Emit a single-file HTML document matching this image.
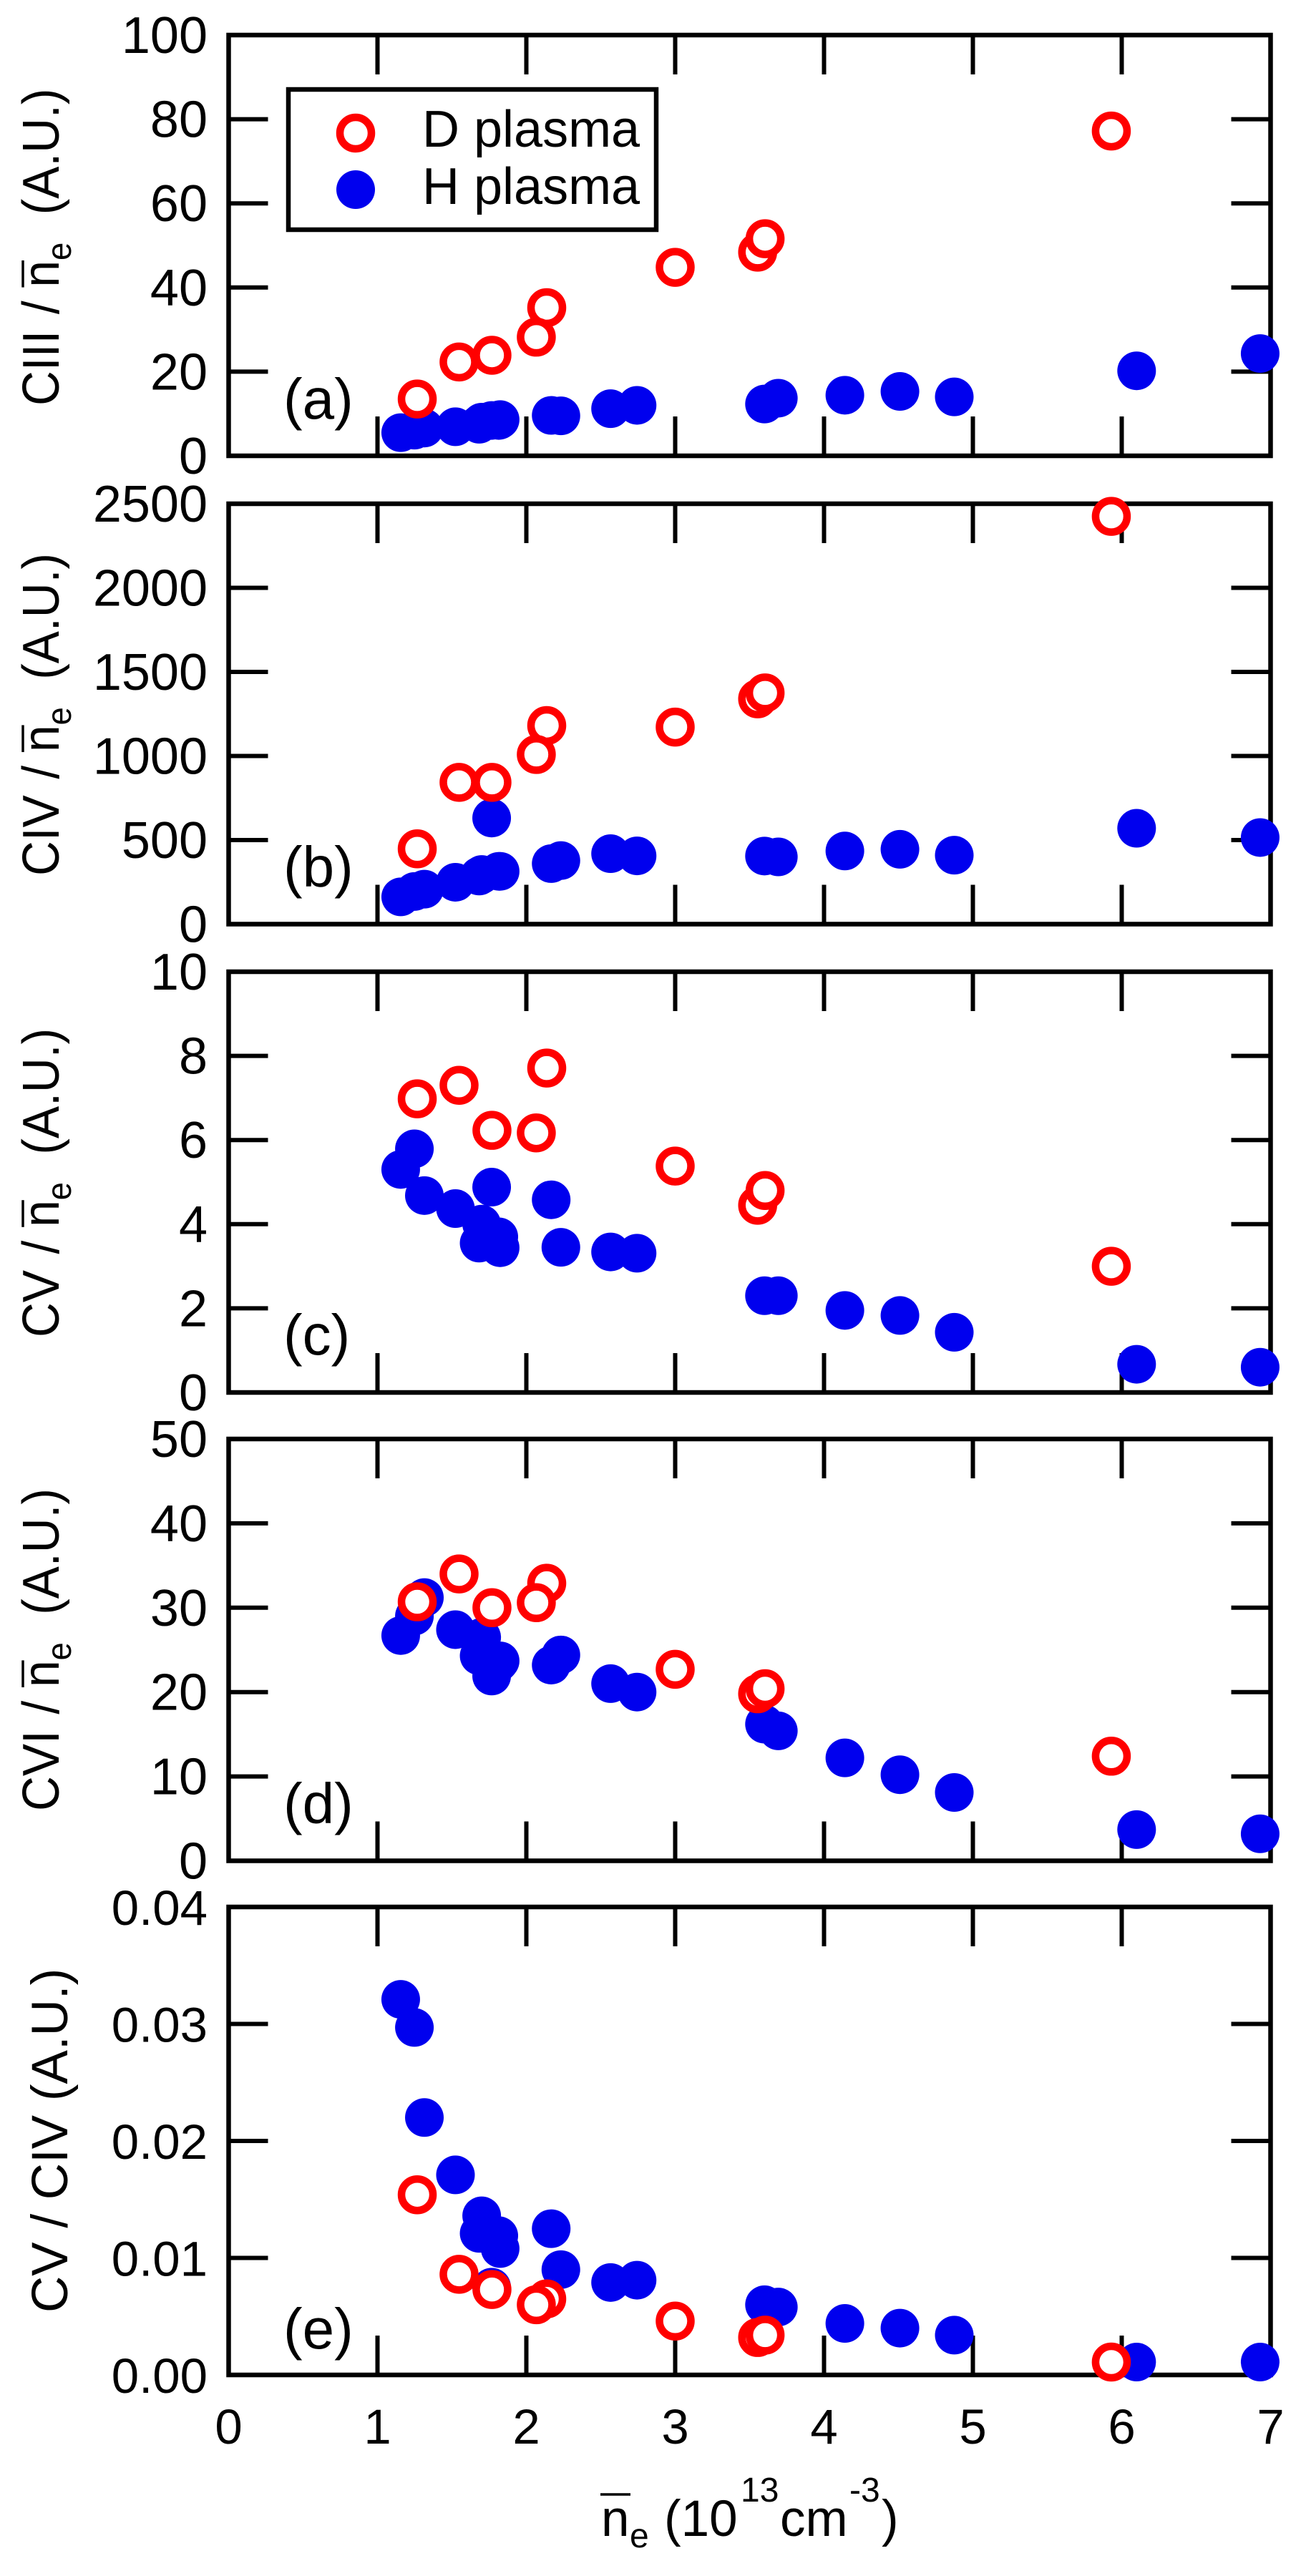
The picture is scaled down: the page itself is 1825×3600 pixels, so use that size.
<!DOCTYPE html>
<html lang="en">
<head>
<meta charset="utf-8">
<title>Carbon line intensities versus line-averaged density</title>
<style>
  html, body { margin: 0; padding: 0; background: #ffffff; }
  body { width: 1825px; height: 3600px; overflow: hidden; }
  svg { display: block; }
  text { font-family: "Liberation Sans", Arial, sans-serif; fill: #000000; white-space: pre; }
</style>
</head>
<body>
<svg id="figure" xmlns="http://www.w3.org/2000/svg" width="1825" height="3600" viewBox="0 0 1825 3600">
  <rect x="0" y="0" width="1825" height="3600" fill="#ffffff"/>
  <g id="panels"></g>
  <g>
    <rect x="403" y="125" width="514" height="196" fill="#ffffff" stroke="#000000" stroke-width="6.5"/>
    <circle cx="497" cy="186" r="22" fill="#ffffff" stroke="#ff0000" stroke-width="10.5"/>
    <text x="590" y="205" font-size="72">D plasma</text>
    <circle cx="497" cy="265" r="27" fill="#0000ee"/>
    <text x="590" y="285" font-size="72">H plasma</text>
  </g>
  <g>
    <line x1="839" y1="3486" x2="881" y2="3486" stroke="#000000" stroke-width="3.5"/>
    <text font-size="71"><tspan x="840" y="3544">n</tspan><tspan x="880" y="3560" font-size="48">e</tspan><tspan x="928" y="3544">(10</tspan><tspan x="1035" y="3496" font-size="48">13</tspan><tspan x="1090" y="3544">cm</tspan><tspan x="1187" y="3496" font-size="48">-3</tspan><tspan x="1232" y="3544">)</tspan></text>
  </g>
</svg>
<script>
// Shared x values (line-averaged density, 10^13 cm^-3)
var densityH = [1.156, 1.248, 1.315, 1.524, 1.683, 1.70, 1.767, 1.815, 1.824, 2.167, 2.232, 2.566, 2.744, 3.60, 3.693, 4.14, 4.51, 4.875, 6.10, 6.93];
var densityD = [1.267, 1.548, 1.769, 2.137, 2.067, 3.0, 3.554, 3.604, 5.93];

// Panel (a) CIII / ne
var ciiiH = [5.5, 6.1, 6.6, 6.9, 7.5, 8.0, 8.4, 8.4, 8.6, 9.6, 9.5, 11.2, 12.0, 12.3, 13.7, 14.4, 15.3, 14.0, 20.2, 24.3];
var ciiiD = [13.5, 22.3, 23.9, 35.2, 28.2, 44.8, 48.4, 51.6, 77.2];
var ticksA = ["0", "20", "40", "60", "80", "100"];

// Panel (b) CIV / ne
var civH = [162, 194, 208, 249, 286, 295, 631, 314, 314, 360, 378, 419, 406, 405, 400, 435, 445, 410, 570, 515];
var civD = [448, 843, 843, 1181, 1009, 1172, 1340, 1375, 2425];
var ticksB = ["0", "500", "1000", "1500", "2000", "2500"];

// Panel (c) CV / ne
var cvH = [5.3, 5.79, 4.68, 4.37, 3.55, 4.0, 4.88, 3.7, 3.44, 4.58, 3.45, 3.34, 3.31, 2.3, 2.3, 1.95, 1.83, 1.43, 0.67, 0.6];
var cvD = [6.98, 7.3, 6.23, 7.71, 6.17, 5.38, 4.45, 4.8, 3.0];
var ticksC = ["0", "2", "4", "6", "8", "10"];

// Panel (d) CVI / ne
var cviH = [26.7, 29, 31.2, 27.4, 24.3, 26.5, 21.9, 23.5, 23.7, 23.2, 24.4, 21, 20, 16.2, 15.4, 12.2, 10.2, 8.1, 3.7, 3.2];
var cviD = [30.7, 34, 30, 32.9, 30.6, 22.7, 19.8, 20.4, 12.4];
var ticksD = ["0", "10", "20", "30", "40", "50"];

// Panel (e) CV / CIV
var ratioH = [0.0321, 0.0297, 0.022, 0.0171, 0.0121, 0.0136, 0.0075, 0.0119, 0.0108, 0.0125, 0.009, 0.0079, 0.0081, 0.006, 0.0058, 0.0044, 0.004, 0.0034, 0.0011, 0.0011];
var ratioD = [0.0154, 0.0086, 0.0073, 0.0065, 0.006, 0.0046, 0.0032, 0.0034, 0.0011];
var ticksE = ["0.00", "0.01", "0.02", "0.03", "0.04"];

var xTicks = ["0", "1", "2", "3", "4", "5", "6", "7"];

var panelNames = ["a", "b", "c", "d", "e"];
var seriesH = [ciiiH, civH, cvH, cviH, ratioH];
var seriesD = [ciiiD, civD, cvD, cviD, ratioD];
var panelTicks = [ticksA, ticksB, ticksC, ticksD, ticksE];
var titleIon = ["CIII", "CIV", "CV", "CVI"];

// Layout (separate from the data above)
var NS = "http://www.w3.org/2000/svg";
var plotLeft = 319.5, plotRight = 1775.5, xMax = 7;
var panelTop = [49, 704, 1358, 2011, 2665];
var panelBottom = [637, 1291.5, 1946, 2600.5, 3319];
var titleStart = [567, 1224, 1869, 2531, 3232];
var titleBaseline = [82, 82, 82, 82, 94];
var tagBaseline = [585, 1239, 1893, 2548, 3282];
var tickFont = [72, 72, 72, 72, 69];
var tickLen = 55;

function xScale(v) { return plotLeft + (v / xMax) * (plotRight - plotLeft); }
function makeYScale(top, bottom, maxValue) {
  return function (v) { return bottom - (v / maxValue) * (bottom - top); };
}
function add(parent, tag, attrs) {
  var el = document.createElementNS(NS, tag);
  for (var k in attrs) { el.setAttribute(k, attrs[k]); }
  parent.appendChild(el);
  return el;
}

var root = document.getElementById("panels");

panelNames.forEach(function (name, p) {
  var top = panelTop[p], bottom = panelBottom[p];
  var ticks = panelTicks[p];
  var yMax = parseFloat(ticks[ticks.length - 1]);
  var yScale = makeYScale(top, bottom, yMax);

  var g = add(root, "g", {});
  
  

  var frame = add(g, "rect", { x: plotLeft, y: top, width: plotRight - plotLeft, height: bottom - top, fill: "none", stroke: "#000", "stroke-width": 6.5 });
  
  

  // x ticks, inward on top and bottom
  xTicks.forEach(function (label) {
    var v = parseFloat(label);
    if (v > 0 && v < xMax) {
      var tb = add(g, "line", { x1: xScale(v), x2: xScale(v), y1: bottom, y2: bottom - tickLen, stroke: "#000", "stroke-width": 6 });
      
      
      var tt = add(g, "line", { x1: xScale(v), x2: xScale(v), y1: top, y2: top + tickLen, stroke: "#000", "stroke-width": 6 });
      
      
    }
    if (p === panelNames.length - 1) {
      var xl = add(g, "text", { x: xScale(v), y: 3415, "font-size": 69, "text-anchor": "middle" });
      
      
      xl.textContent = label;
    }
  });

  // y ticks and labels
  ticks.forEach(function (label) {
    var v = parseFloat(label);
    var y = yScale(v);
    if (v > 0 && v < yMax) {
      var tl = add(g, "line", { x1: plotLeft, x2: plotLeft + tickLen, y1: y, y2: y, stroke: "#000", "stroke-width": 6 });
      
      
      var tr = add(g, "line", { x1: plotRight, x2: plotRight - tickLen, y1: y, y2: y, stroke: "#000", "stroke-width": 6 });
      
      
    }
    var yl = add(g, "text", { x: 290, y: y + 25, "font-size": tickFont[p], "text-anchor": "end" });
    
    
    yl.textContent = label;
  });

  // y-axis title
  var isRatio = p === panelNames.length - 1;
  var tg = add(g, "g", { transform: "translate(" + titleBaseline[p] + "," + titleStart[p] + ") rotate(-90)" + (isRatio ? "" : " scale(0.94,1)") });
  
  
  var title = add(tg, "text", { x: 0, y: 0, "font-size": isRatio ? 71 : 72 });
  
  
  if (isRatio) {
    title.textContent = "CV / CIV (A.U.)";
  } else {
    var ion = add(title, "tspan", {});
    ion.textContent = titleIon[p];
    var head = add(title, "tspan", { dx: 4 });
    head.textContent = " / n";
    var sub = add(title, "tspan", { dy: 17, "font-size": 48 });
    sub.textContent = "e";
    var tail = add(title, "tspan", { dy: -17, dx: 21 });
    tail.textContent = " (A.U.)";
    var idx = titleIon[p].length + 3;
    var s = title.getStartPositionOfChar(idx);
    var e = title.getEndPositionOfChar(idx);
    var bar = add(tg, "line", { x1: s.x, x2: e.x, y1: -50, y2: -50, stroke: "#000", "stroke-width": 3.5 });
    
    
  }

  // panel tag
  var tag = add(g, "text", { x: 396, y: tagBaseline[p], "font-size": 80 });
  
  
  tag.textContent = "(" + name + ")";

  // H plasma points
  seriesH[p].forEach(function (v, i) {
    var c = add(g, "circle", { cx: xScale(densityH[i]), cy: yScale(v), r: 27, fill: "#0000ee" });
    
    
  });
  // D plasma points (white-filled rings)
  seriesD[p].forEach(function (v, i) {
    var c = add(g, "circle", { cx: xScale(densityD[i]), cy: yScale(v), r: 22, fill: "#ffffff", stroke: "#ff0000", "stroke-width": 10.5 });
    
    
  });
});
</script>
</body>
</html>
